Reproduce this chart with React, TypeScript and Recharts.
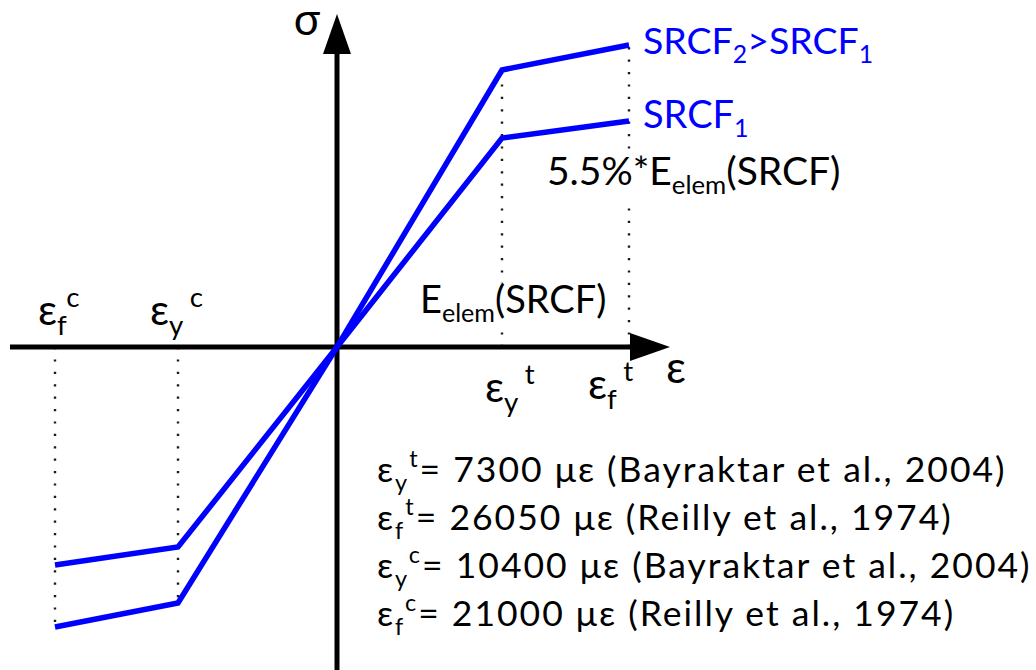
import React from 'react'
import {
  LineChart,
  Line,
  XAxis,
  YAxis,
  ReferenceLine,
  ReferenceDot,
} from 'recharts'

// schematic strain positions: eps_f^c, eps_y^c, origin, eps_y^t, eps_f^t (not to scale)
const strain = [-2.82, -1.59, 0, 1.65, 2.92]
// schematic stress levels for the two stiffnesses
const srcf1 = [-2.18, -2.0, 0, 2.09, 2.26]
const srcf2 = [-2.8, -2.56, 0, 2.77, 3.02]

const notes = [
  { sym: 'y', sup: 't', text: '= 7300 με (Bayraktar et al., 2004)' },
  { sym: 'f', sup: 't', text: '= 26050 με (Reilly et al., 1974)' },
  { sym: 'y', sup: 'c', text: '= 10400 με (Bayraktar et al., 2004)' },
  { sym: 'f', sup: 'c', text: '= 21000 με (Reilly et al., 1974)' },
]

const data = strain.map((x, i) => ({ x, s1: srcf1[i], s2: srcf2[i] }))

const BLUE = '#0000ff'
const FONT = 'Lato, "Open Sans", sans-serif'

type Part = [string, 'n' | 'sub' | 'sup']

const Rich = ({ x, y, parts, size, fill = '#000', anchor = 'start', spacing = 0 }: any) => {
  let cur = 0
  return (
    <text
      x={x}
      y={y}
      fontSize={size}
      fill={fill}
      fontFamily={FONT}
      textAnchor={anchor}
      letterSpacing={spacing}
      style={{ fontVariantLigatures: 'none' }}
    >
      {parts.map(([t, k]: Part, i: number) => {
        const target = k === 'sub' ? size * 0.24 : k === 'sup' ? -size * 0.42 : 0
        const dy = target - cur
        cur = target
        return (
          <tspan key={i} dy={dy} fontSize={k === 'n' ? size : size * 0.66}>
            {t}
          </tspan>
        )
      })}
    </text>
  )
}

const Arrow = (props: any) => {
  const { x1, y1, x2, y2 } = props
  const len = Math.hypot(x2 - x1, y2 - y1)
  const ux = (x2 - x1) / len
  const uy = (y2 - y1) / len
  const hl = 40
  const hw = 14
  const bx = x2 - ux * hl
  const by = y2 - uy * hl
  return (
    <g>
      <line x1={x1} y1={y1} x2={bx + ux * 2} y2={by + uy * 2} stroke="#000" strokeWidth={5} />
      <polygon
        points={`${x2},${y2} ${bx - uy * hw},${by + ux * hw} ${bx + uy * hw},${by - ux * hw}`}
        fill="#000"
      />
    </g>
  )
}

const label = (fn: (cx: number, cy: number) => React.ReactNode) => (p: any) => <g>{fn(p.cx, p.cy)}</g>

const guide = { stroke: '#1a1a1a', strokeWidth: 2.4, strokeDasharray: '2.2 10.2' }

export default function App() {
  return (
    <div style={{ position: 'absolute', left: 0, top: 0, width: 1036, height: 670, background: '#fff' }}>
      <LineChart width={1036} height={670} data={data} margin={{ top: 0, right: 0, bottom: 0, left: 0 }}>
        <XAxis dataKey="x" type="number" domain={[-3.37, 6.99]} hide allowDataOverflow />
        <YAxis type="number" domain={[-3.23, 3.47]} hide allowDataOverflow />

        {/* dotted guides */}
        <ReferenceLine zIndex={100} segment={[{ x: strain[0], y: 0 }, { x: strain[0], y: srcf2[0] }]} {...guide} />
        <ReferenceLine zIndex={100} segment={[{ x: strain[1], y: 0 }, { x: strain[1], y: srcf2[1] }]} {...guide} />
        <ReferenceLine zIndex={100} segment={[{ x: strain[3], y: 0 }, { x: strain[3], y: srcf2[3] }]} {...guide} />
        <ReferenceLine zIndex={100} segment={[{ x: strain[4], y: 0 }, { x: strain[4], y: srcf2[4] }]} {...guide} />

        {/* axes with arrows */}
        <ReferenceLine zIndex={100} ifOverflow="visible" segment={[{ x: -3.27, y: 0 }, { x: 3.33, y: 0 }]} shape={Arrow} />
        <ReferenceLine zIndex={100} ifOverflow="visible" segment={[{ x: 0, y: -3.3 }, { x: 0, y: 3.33 }]} shape={Arrow} />

        <Line zIndex={1000} type="linear" dataKey="s1" stroke={BLUE} strokeWidth={5.5} dot={false} activeDot={false} isAnimationActive={false} />
        <Line zIndex={1000} type="linear" dataKey="s2" stroke={BLUE} strokeWidth={5.5} dot={false} activeDot={false} isAnimationActive={false} />

        {/* axis titles */}
        <ReferenceDot zIndex={1100} ifOverflow="visible" x={0} y={3.33} r={0} shape={label((cx, cy) => (
          <Rich x={cx - 30} y={cy + 21} size={44} parts={[['σ', 'n']]} anchor="middle" />
        ))} />
        <ReferenceDot zIndex={1100} x={3.33} y={0} r={0} shape={label((cx, cy) => (
          <Rich x={cx - 4} y={cy + 36} size={44} parts={[['ε', 'n']]} />
        ))} />

        {/* strain marks */}
        <ReferenceDot zIndex={1100} x={strain[0]} y={0} r={0} shape={label((cx, cy) => (
          <Rich x={cx - 17} y={cy - 22} size={42} parts={[['ε', 'n'], ['f', 'sub'], ['c', 'sup']]} />
        ))} />
        <ReferenceDot zIndex={1100} x={strain[1]} y={0} r={0} shape={label((cx, cy) => (
          <Rich x={cx - 28} y={cy - 22} size={42} parts={[['ε', 'n'], ['y', 'sub'], [' c', 'sup']]} />
        ))} />
        <ReferenceDot zIndex={1100} x={strain[3]} y={0} r={0} shape={label((cx, cy) => (
          <Rich x={cx - 17} y={cy + 55} size={42} parts={[['ε', 'n'], ['y', 'sub'], [' t', 'sup']]} />
        ))} />
        <ReferenceDot zIndex={1100} x={strain[4]} y={0} r={0} shape={label((cx, cy) => (
          <Rich x={cx - 41} y={cy + 52} size={42} parts={[['ε', 'n'], ['f', 'sub'], [' t', 'sup']]} />
        ))} />

        {/* stiffness labels with white backing */}
        <ReferenceDot zIndex={1100} x={strain[3]} y={0} r={0} shape={label((cx, cy) => (
          <g>
            <rect x={cx - 84} y={cy - 64} width={186} height={46} fill="#fff" />
            <Rich x={cx - 82} y={cy - 34} size={38} parts={[['E', 'n'], ['elem', 'sub'], ['(SRCF)', 'n']]} />
          </g>
        ))} />
        <ReferenceDot zIndex={1100} x={strain[4]} y={srcf1[4]} r={0} shape={label((cx, cy) => (
          <g>
            <rect x={cx - 84} y={cy + 32} width={300} height={48} fill="#fff" />
            <Rich x={cx - 82} y={cy + 64} size={39} parts={[['5.5%*E', 'n'], ['elem', 'sub'], ['(SRCF)', 'n']]} />
          </g>
        ))} />
        <ReferenceDot zIndex={1100} x={strain[4]} y={srcf2[4]} r={0} shape={label((cx, cy) => (
          <Rich x={cx + 14} y={cy + 9} size={37.5} fill={BLUE} parts={[['SRCF', 'n'], ['2', 'sub'], ['>SRCF', 'n'], ['1', 'sub']]} />
        ))} />
        <ReferenceDot zIndex={1100} x={strain[4]} y={srcf1[4]} r={0} shape={label((cx, cy) => (
          <Rich x={cx + 14} y={cy + 7} size={38} fill={BLUE} parts={[['SRCF', 'n'], ['1', 'sub']]} />
        ))} />

        {/* reference values */}
        {notes.map((n, i) => (
          <ReferenceDot zIndex={1100} key={i} x={0} y={0} r={0} shape={label((cx, cy) => (
            <Rich x={cx + 40} y={cy + 135 + i * 48} size={35.5} spacing={2}
              parts={[['ε', 'n'], [n.sym, 'sub'], [n.sup, 'sup'], [n.text, 'n']]} />
          ))} />
        ))}
      </LineChart>
    </div>
  )
}
